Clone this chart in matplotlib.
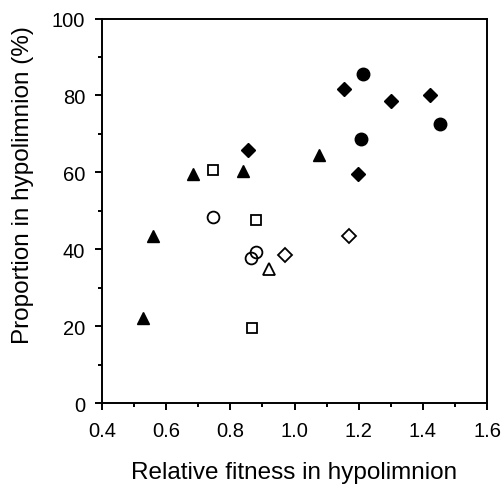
import matplotlib
matplotlib.use("Agg")
import matplotlib.pyplot as plt
from matplotlib.ticker import MultipleLocator

plt.rcParams['font.family'] = ['Liberation Sans', 'DejaVu Sans']

# filled triangles
tri_f_x = [0.529, 0.560, 0.685, 0.838, 1.076]
tri_f_y = [22.0, 43.4, 59.6, 60.3, 64.5]
# open triangles
tri_o_x = [0.921]
tri_o_y = [34.9]
# open squares
sq_o_x = [0.745, 0.880, 0.868]
sq_o_y = [60.6, 47.6, 19.4]
# open circles
ci_o_x = [0.745, 0.880, 0.865]
ci_o_y = [48.5, 39.4, 37.7]
# open diamonds
di_o_x = [0.969, 1.170]
di_o_y = [38.4, 43.4]
# filled diamonds
di_f_x = [0.856, 1.155, 1.301, 1.422, 1.199]
di_f_y = [65.8, 81.7, 78.6, 80.1, 59.6]
# filled circles
ci_f_x = [1.213, 1.206, 1.454]
ci_f_y = [85.6, 68.7, 72.7]

fig = plt.figure(figsize=(5.04, 4.89), dpi=100)
ax = fig.add_axes([0.2024, 0.1738, 0.7639, 0.7862])

ax.plot(tri_f_x, tri_f_y, '^', color='black', ms=9, ls='none')
ax.plot(tri_o_x, tri_o_y, '^', mfc='white', mec='black', mew=1.3, ms=9, ls='none')
ax.plot(sq_o_x, sq_o_y, 's', mfc='white', mec='black', mew=1.3, ms=7.5, ls='none')
ax.plot(ci_o_x, ci_o_y, 'o', mfc='none', mec='black', mew=1.3, ms=8.5, ls='none')
ax.plot(di_o_x, di_o_y, 'D', mfc='white', mec='black', mew=1.3, ms=7, ls='none')
ax.plot(di_f_x, di_f_y, 'D', color='black', ms=7.5, ls='none')
ax.plot(ci_f_x, ci_f_y, 'o', color='black', ms=9, ls='none')

ax.set_xlim(0.4, 1.6)
ax.set_ylim(0, 100)
ax.xaxis.set_major_locator(MultipleLocator(0.2))
ax.xaxis.set_minor_locator(MultipleLocator(0.1))
ax.yaxis.set_major_locator(MultipleLocator(20))
ax.yaxis.set_minor_locator(MultipleLocator(10))
ax.set_xticklabels([f"{v:.1f}" for v in ax.get_xticks()])

for s in ax.spines.values():
    s.set_linewidth(1.4)
ax.tick_params(which='major', direction='out', length=5, width=1.4, labelsize=14.5)
ax.tick_params(axis='x', which='major', pad=8)
ax.tick_params(axis='y', which='major', pad=7)
ax.tick_params(which='minor', direction='out', length=3, width=1.4)

ax.set_xlabel('Relative fitness in hypolimnion', fontsize=17.5, labelpad=15)
ax.set_ylabel('Proportion in hypolimnion (%)', fontsize=17.5)
ax.yaxis.set_label_coords(-0.176, 0.57)

fig.savefig('out.png', dpi=100)
